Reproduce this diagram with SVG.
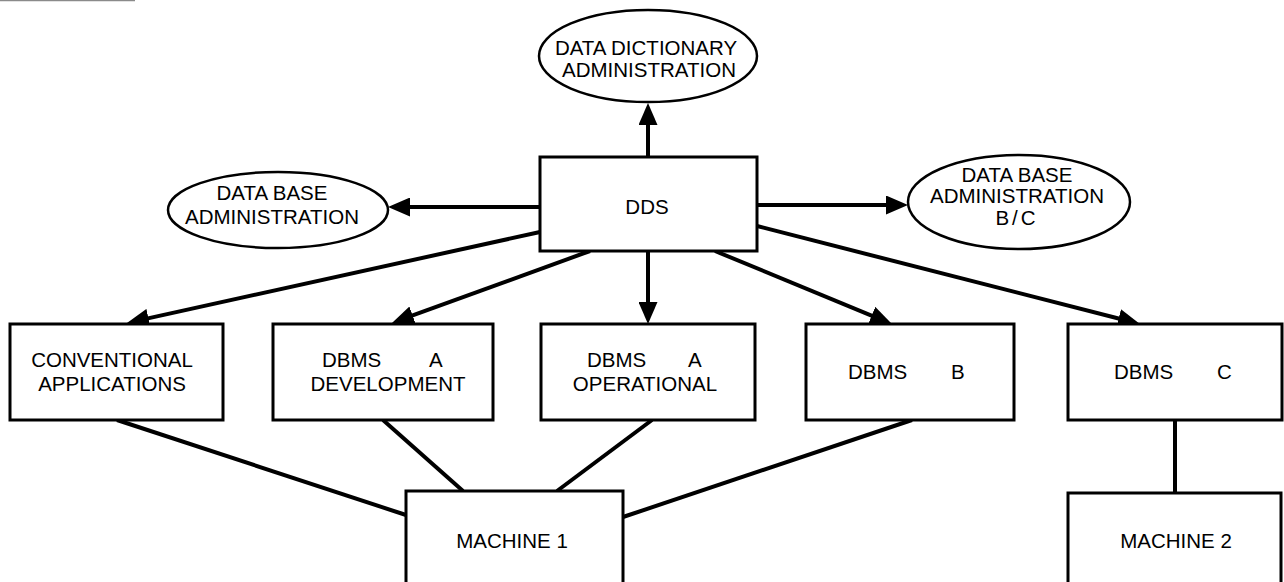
<svg xmlns="http://www.w3.org/2000/svg" width="1284" height="582" viewBox="0 0 1284 582">
  <style>
    .box { fill: #fff; stroke: #000; stroke-width: 3; }
    .oval { fill: #fff; stroke: #000; stroke-width: 2.5; }
    .lbl { font-family: "Liberation Sans", Arial, sans-serif; font-size: 20.5px; fill: #000; text-anchor: middle; }
    .lbs { font-family: "Liberation Sans", Arial, sans-serif; font-size: 20.5px; fill: #000; }
    .wire { stroke: #000; stroke-width: 4; fill: none; }
    .arrow { stroke: #000; stroke-width: 4; fill: none; marker-end: url(#head); }
  </style>
  <defs>
    <marker id="head" markerUnits="userSpaceOnUse" markerWidth="22" markerHeight="19" refX="11" refY="9.5" orient="auto" viewBox="0 0 22 19">
      <path d="M0,0 L22,9.5 L0,19 Z" fill="#000"/>
    </marker>
  </defs>
  <rect width="1284" height="582" fill="#fff"/>
  <!-- thin rule along the top edge -->
  <line x1="0" y1="0.5" x2="135" y2="0.5" stroke="#8a8a8a" stroke-width="1.5"/>

  <g id="connectors">
    <line class="arrow" x1="648" y1="157" x2="648" y2="114"/>
    <line class="arrow" x1="540" y1="207" x2="399" y2="207"/>
    <line class="arrow" x1="757" y1="205" x2="897" y2="205"/>
    <line class="arrow" x1="540" y1="232" x2="137.7" y2="320.6"/>
    <line class="arrow" x1="590" y1="251" x2="402.3" y2="319.2"/>
    <line class="arrow" x1="648" y1="251" x2="648" y2="313"/>
    <line class="arrow" x1="715" y1="251" x2="881.8" y2="319.8"/>
    <line class="arrow" x1="757" y1="226" x2="1129.3" y2="321.3"/>
    <line class="wire" x1="117" y1="420" x2="406" y2="515"/>
    <line class="wire" x1="383" y1="420" x2="463" y2="491"/>
    <line class="wire" x1="652" y1="420" x2="557" y2="491"/>
    <line class="wire" x1="912" y1="420" x2="623" y2="517"/>
    <line class="wire" x1="1175" y1="420" x2="1175" y2="493"/>
  </g>

  <g id="dd-admin">
    <ellipse class="oval" cx="648" cy="56" rx="109" ry="46"/>
    <text class="lbl" x="646" y="55">DATA DICTIONARY</text>
    <text class="lbl" x="649" y="77">ADMINISTRATION</text>
  </g>

  <g id="db-admin">
    <ellipse class="oval" cx="278" cy="210" rx="110" ry="38"/>
    <text class="lbl" x="272" y="200">DATA BASE</text>
    <text class="lbl" x="272" y="224">ADMINISTRATION</text>
  </g>

  <g id="db-admin-bc">
    <ellipse class="oval" cx="1019" cy="202" rx="111" ry="47"/>
    <text class="lbl" x="1017" y="182">DATA BASE</text>
    <text class="lbl" x="1017" y="203">ADMINISTRATION</text>
    <text class="lbl" x="1017" y="225" letter-spacing="3">B/C</text>
  </g>

  <g id="dds">
    <rect class="box" x="540" y="157" width="217" height="94"/>
    <text class="lbl" x="647" y="214">DDS</text>
  </g>

  <g id="conventional">
    <rect class="box" x="10" y="324" width="213" height="96"/>
    <text class="lbl" x="112" y="367">CONVENTIONAL</text>
    <text class="lbl" x="112" y="391">APPLICATIONS</text>
  </g>

  <g id="dbms-a-dev">
    <rect class="box" x="273" y="324" width="220" height="96"/>
    <text class="lbs" x="322" y="367">DBMS</text>
    <text class="lbs" x="429" y="367">A</text>
    <text class="lbl" x="388" y="391">DEVELOPMENT</text>
  </g>

  <g id="dbms-a-op">
    <rect class="box" x="541" y="324" width="214" height="96"/>
    <text class="lbs" x="587" y="367">DBMS</text>
    <text class="lbs" x="688" y="367">A</text>
    <text class="lbl" x="645" y="391">OPERATIONAL</text>
  </g>

  <g id="dbms-b">
    <rect class="box" x="806" y="324" width="208" height="96"/>
    <text class="lbs" x="848" y="379">DBMS</text>
    <text class="lbs" x="951" y="379">B</text>
  </g>

  <g id="dbms-c">
    <rect class="box" x="1068" y="324" width="214" height="96"/>
    <text class="lbs" x="1114" y="379">DBMS</text>
    <text class="lbs" x="1217" y="379">C</text>
  </g>

  <g id="machine-1">
    <rect class="box" x="406" y="491" width="217" height="110"/>
    <text class="lbl" x="512" y="548">MACHINE 1</text>
  </g>

  <g id="machine-2">
    <rect class="box" x="1068" y="493" width="213" height="110"/>
    <text class="lbl" x="1176" y="548">MACHINE 2</text>
  </g>
</svg>
